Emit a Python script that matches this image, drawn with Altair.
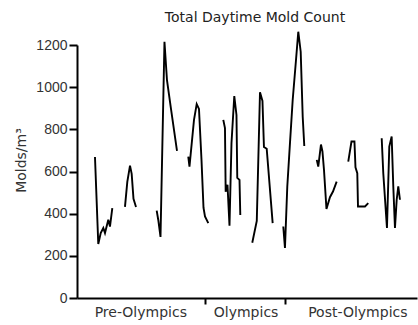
import altair as alt
import pandas as pd

chart_title = "Total Daytime Mold Count"
y_title = "Molds/m³"
periods = ["Pre-Olympics", "Olympics", "Post-Olympics"]
period_centers = [13.7, 36.3, 60.3]
period_bounds = [27.5, 44.6]
y_ticks = [0, 200, 400, 600, 800, 1000, 1200]

# one list per week of sampling (weekday counts), day = days from start of study
week_days = [
    [3.86, 4.57, 5.09, 5.65, 6.01, 6.72, 7.08, 7.58],
    [10.30, 10.80, 11.38, 11.74, 12.13, 12.67],
    [17.11, 17.45, 17.93, 18.78, 19.32, 20.18, 21.47],
    [23.89, 24.15, 25.12, 25.70, 26.19, 26.73, 27.16, 27.48, 28.19],
    [31.41, 31.77, 31.92, 32.31, 32.74, 33.17, 33.77, 34.24, 34.41, 34.89, 35.06],
    [37.63, 38.60, 39.29, 39.82, 40.14, 40.73, 42.01],
    [44.29, 44.65, 45.15, 45.73, 46.31, 47.02, 47.51, 48.03, 48.46, 48.80],
    [51.48, 51.80, 52.38, 52.70, 53.03, 53.56, 54.31, 54.96, 55.75],
    [58.24, 58.93, 59.57, 59.79, 60.18, 60.33, 61.83, 62.54],
    [65.42, 65.76, 66.55, 67.05, 67.56, 67.91, 68.27, 68.64, 68.98, 69.34],
]
week_counts = [
    [669, 256, 308, 332, 308, 371, 339, 426],
    [432, 551, 628, 589, 470, 432],
    [414, 370, 290, 1215, 1033, 897, 698],
    [671, 623, 845, 920, 897, 655, 428, 387, 355],
    [845, 806, 504, 537, 343, 735, 958, 868, 570, 560, 394],
    [262, 366, 976, 935, 716, 708, 355],
    [339, 237, 529, 736, 939, 1129, 1263, 1168, 860, 721],
    [655, 623, 728, 695, 608, 422, 478, 505, 552],
    [647, 742, 742, 620, 592, 434, 434, 450],
    [758, 592, 332, 718, 766, 529, 332, 466, 529, 466],
]

rows = []
for w, (ds, cs) in enumerate(zip(week_days, week_counts)):
    for i, (d, c) in enumerate(zip(ds, cs)):
        rows.append({"week": w, "day": d, "count": c, "order": i})
df = pd.DataFrame(rows)
label_df = pd.DataFrame({"day": period_centers, "label": periods})

x_scale = alt.Scale(domain=[0, 73], nice=False, zero=False)

line = alt.Chart(df).mark_line(color="black", strokeWidth=1.9, clip=False).encode(
    x=alt.X("day:Q", scale=x_scale,
            axis=alt.Axis(values=period_bounds, labels=False, title=None, tickSize=6,
                          tickWidth=2, domainWidth=2, grid=False)),
    y=alt.Y("count:Q", scale=alt.Scale(domain=[0, 1200], nice=False),
            axis=alt.Axis(values=y_ticks, format="d", title=y_title, tickSize=8, tickWidth=2,
                          domainWidth=2, grid=False, labelPadding=2,
                          titleX=-49, titleY=115, titleAngle=270, titleBaseline="bottom",
                          titleAlign="center")),
    detail="week:N",
    order="order:Q",
)

labels = alt.Chart(label_df).mark_text(
    font="DejaVu Sans", fontSize=14, color="#333", baseline="middle"
).encode(
    x=alt.X("day:Q", scale=x_scale),
    y=alt.value(268),
    text="label:N",
)

chart = alt.layer(line, labels).properties(
    width=340,
    height=253,
    title=alt.TitleParams(chart_title, font="DejaVu Sans", fontSize=14, fontWeight="normal",
                          color="#222", anchor="middle", dx=8, offset=3),
    autosize=alt.AutoSizeParams(type="none"),
    padding={"left": 77, "top": 45, "right": 1, "bottom": 27},
).configure_view(stroke=None).configure_axis(
    labelFont="Liberation Sans", labelFontSize=14, labelColor="#333",
    titleFont="DejaVu Sans", titleFontSize=14, titleFontWeight="normal", titleColor="#333",
    domainColor="black", tickColor="black",
)

chart.save("out.html", embed_options={"renderer": "svg", "actions": False})
